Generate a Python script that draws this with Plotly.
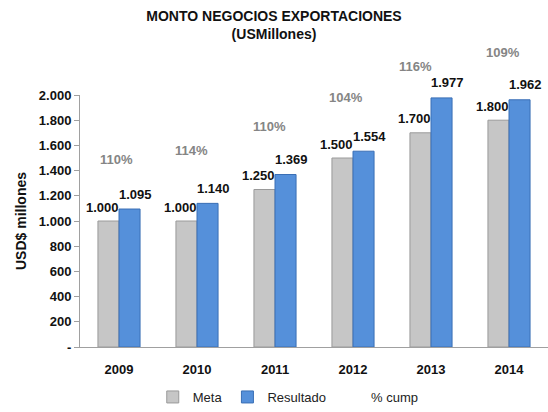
import plotly.graph_objects as go

years = ["2009", "2010", "2011", "2012", "2013", "2014"]
meta = [1000, 1000, 1250, 1500, 1700, 1800]
resultado = [1095, 1140, 1369, 1554, 1977, 1962]
y_ticks = [0, 200, 400, 600, 800, 1000, 1200, 1400, 1600, 1800, 2000]

def fmt(v):
    return f"{v:,}".replace(",", ".")

pct = [int(100 * r / m + 0.5) for r, m in zip(resultado, meta)]

# label placement styling (pixel offsets of the "% cump" labels)
pct_xshift = [-3, -6, -6, -7, -16, -6]
pct_yshift = [50, 53, 48, 54, 31, 47]

font = "Arial, Liberation Sans, sans-serif"

fig = go.Figure()
fig.add_trace(go.Bar(
    name="Meta", x=years, y=meta,
    marker=dict(color="#C6C6C6", line=dict(color="#9A9A9A", width=1)),
))
fig.add_trace(go.Bar(
    name="Resultado", x=years, y=resultado,
    marker=dict(color="#5590DA", line=dict(color="#3A6FB5", width=1)),
))
fig.add_trace(go.Scatter(
    name="% cump", x=years, y=resultado, mode="lines",
    line=dict(color="rgba(0,0,0,0)", width=0), hoverinfo="skip",
))

# value labels (data-anchored, shifted over each bar)
for i, (m, r) in enumerate(zip(meta, resultado)):
    fig.add_annotation(x=i, y=m, text=f"<b>{fmt(m)}</b>", showarrow=False,
                       xshift=-17, yshift=14,
                       font=dict(family=font, size=13, color="#111111"))
    fig.add_annotation(x=i, y=r, text=f"<b>{fmt(r)}</b>", showarrow=False,
                       xshift=16, yshift=15,
                       font=dict(family=font, size=13, color="#111111"))

for i, (r, p, dx, dy) in enumerate(zip(resultado, pct, pct_xshift, pct_yshift)):
    fig.add_annotation(
        x=i, y=r, text=f"<b>{p}%</b>", showarrow=False,
        xshift=dx, yshift=dy,
        font=dict(family=font, size=13, color="#858585"),
    )

fig.update_layout(
    width=548, height=412,
    margin=dict(l=80, r=0, t=95, b=59),
    paper_bgcolor="white", plot_bgcolor="white",
    barmode="group", bargap=0.46, bargroupgap=0.0,
    title=dict(
        text="<b>MONTO NEGOCIOS EXPORTACIONES<br>(USMillones)</b>",
        x=0.5, xref="container", xanchor="center", y=0.95, yanchor="top",
        font=dict(family=font, size=14, color="#111111"),
    ),
    font=dict(family=font, color="#111111"),
    showlegend=True,
    legend=dict(
        orientation="h", x=0.445, xanchor="center", y=-0.20, yanchor="middle",
        font=dict(family=font, size=13, color="#222222"),
        itemwidth=30, traceorder="normal",
    ),
    xaxis=dict(
        type="category", range=[-0.5, 5.5],
        showline=True, linecolor="#A0A0A0", linewidth=1,
        ticks="", showgrid=False, ticklabelstandoff=10,
        tickfont=dict(family=font, size=13, color="#111111"),
        tickprefix="<b>", ticksuffix="</b>",
    ),
    yaxis=dict(
        range=[0, 2000], showline=True, linecolor="#A0A0A0", linewidth=1,
        ticks="outside", ticklen=5, tickcolor="#A0A0A0", showgrid=False,
        zeroline=False,
        tickvals=y_ticks,
        ticktext=["<b>-</b>"] + [f"<b>{fmt(v)}</b>" for v in y_ticks[1:]],
        tickfont=dict(family=font, size=13, color="#111111"),
        title=dict(text="<b>USD$ millones</b>", standoff=8,
                   font=dict(family=font, size=14, color="#111111")),
    ),
)

fig.write_html("out.html")
